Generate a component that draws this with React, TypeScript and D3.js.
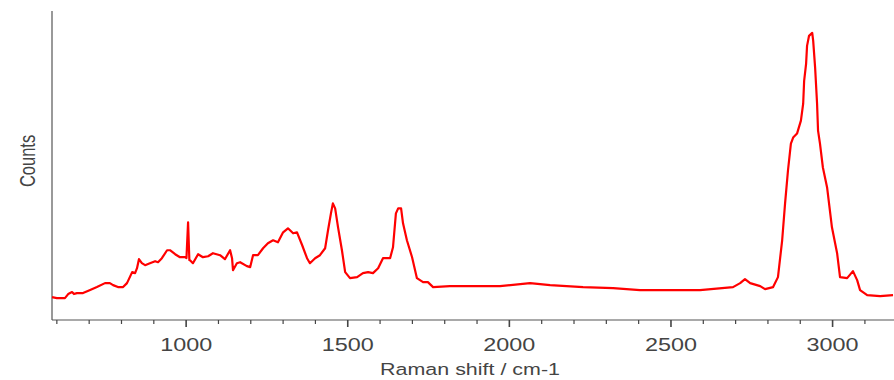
import React, { useEffect, useRef } from 'react';
import * as d3 from 'd3';

// Raman shift (cm-1) and counts (arbitrary units)
const shifts = [
  585, 600, 625, 635, 647, 653, 662, 681, 703, 724, 749, 764, 774, 789, 805, 817,
  833, 842, 848, 854, 863, 873, 888, 904, 913, 925, 941, 950, 966, 981, 997,
  1001, 1006, 1010, 1012, 1021, 1037, 1052, 1068, 1083, 1105, 1120, 1136, 1142,
  1145, 1157, 1167, 1188, 1198, 1207, 1222, 1238, 1253, 1269, 1284, 1300, 1315,
  1331, 1343, 1359, 1374, 1383, 1399, 1414, 1430, 1439, 1448, 1454, 1461, 1470,
  1482, 1492, 1507, 1529, 1547, 1563, 1578, 1594, 1609, 1631, 1640, 1649, 1656,
  1665, 1671, 1683, 1699, 1714, 1733, 1748, 1764, 1816, 1869, 1971, 2064, 2126,
  2228, 2321, 2404, 2488, 2590, 2692, 2714, 2729, 2745, 2776, 2791, 2816, 2831,
  2844, 2853, 2862, 2871, 2878, 2890, 2902, 2909, 2912, 2918, 2921, 2927, 2937,
  2940, 2946, 2952, 2955, 2961, 2970, 2983, 2998, 3014, 3023, 3045, 3063, 3076,
  3085, 3107, 3147, 3187
];
const counts = [
  230, 220, 220, 260, 280, 260, 270, 270, 300, 330, 370, 370, 350, 330, 330, 370,
  480, 470, 520, 610, 570, 550, 570, 590, 580, 620, 700, 700, 660, 630, 630,
  620, 980, 600, 600, 570, 660, 630, 640, 670, 650, 610, 700, 620,
  500, 570, 580, 540, 530, 650, 650, 720, 770, 800, 780, 880, 920,
  870, 880, 750, 620, 570, 620, 650, 720, 900, 1070, 1170, 1120, 930,
  700, 480, 420, 430, 470, 480, 470, 520, 620, 620, 730, 1070, 1120,
  1120, 970, 800, 630, 420, 380, 380, 330, 340, 340, 340, 370, 350,
  330, 320, 300, 300, 300, 330, 370, 410, 370, 340, 310, 330, 430,
  800, 1170, 1500, 1770, 1830, 1870, 2000, 2170, 2400, 2570, 2750, 2850, 2880,
  2800, 2530, 2170, 1900, 1770, 1530, 1330, 930, 670, 430, 420, 490, 400,
  300, 250, 240, 250
];

const majorTicks = [1000, 1500, 2000, 2500, 3000];
const minorTicks = d3.range(600, 3200, 100);

export default function App() {
  const svgRef = useRef<SVGSVGElement>(null);

  useEffect(() => {
    if (!svgRef.current) return;
    const width = 894;
    const height = 380;
    const margin = { top: 11, right: 0, bottom: 60, left: 52 };
    const plotBottom = height - margin.bottom;
    const font = 'Arial, "Liberation Sans", sans-serif';
    const stretch = 1.3; // the original picture is widened a bit

    const svg = d3.select(svgRef.current);
    svg.selectAll('*').remove();

    const x = d3.scaleLinear().domain([585, 3190]).range([margin.left, width - margin.right]);
    const y = d3.scaleLinear().domain([0, 3100]).range([plotBottom, margin.top]);

    const data = shifts.map((s, i) => ({ x: s, y: counts[i] }));

    // Axis lines
    svg.append('line')
      .attr('x1', margin.left).attr('x2', margin.left)
      .attr('y1', margin.top).attr('y2', plotBottom)
      .attr('stroke', '#555').attr('stroke-width', 1.2);
    svg.append('line')
      .attr('x1', margin.left).attr('x2', width)
      .attr('y1', plotBottom).attr('y2', plotBottom)
      .attr('stroke', '#555').attr('stroke-width', 1.2);

    // Ticks
    svg.append('g').selectAll('line')
      .data(minorTicks)
      .join('line')
      .attr('x1', d => x(d)).attr('x2', d => x(d))
      .attr('y1', plotBottom)
      .attr('y2', d => plotBottom + (d % 500 === 0 ? 7 : 4))
      .attr('stroke', '#444')
      .attr('stroke-width', d => (d % 500 === 0 ? 1.6 : 1.2));

    svg.append('g').selectAll('text')
      .data(majorTicks)
      .join('text')
      .attr('transform', d => `translate(${x(d)},${plotBottom + 31}) scale(${stretch},1)`)
      .attr('text-anchor', 'middle')
      .style('font-family', font)
      .style('font-size', '18px')
      .style('fill', '#444')
      .text(d => d);

    // Axis labels
    svg.append('text')
      .attr('transform', `translate(${(margin.left + width) / 2 - 3},${height - 5}) scale(${stretch},1)`)
      .attr('text-anchor', 'middle')
      .style('font-family', font)
      .style('font-size', '16.5px')
      .style('fill', '#444')
      .text('Raman shift / cm-1');

    svg.append('text')
      .attr('transform', `translate(35,161) scale(${stretch},1) rotate(-90)`)
      .attr('text-anchor', 'middle')
      .style('font-family', font)
      .style('font-size', '16.5px')
      .style('fill', '#444')
      .text('Counts');

    // Spectrum
    const line = d3.line<{ x: number; y: number }>()
      .x(d => x(d.x))
      .y(d => y(d.y));

    svg.append('path')
      .datum(data)
      .attr('fill', 'none')
      .attr('stroke', '#ff0000')
      .attr('stroke-width', 2.2)
      .attr('stroke-linejoin', 'round')
      .attr('d', line);
  }, []);

  return (
    <div style={{ position: 'absolute', left: 0, top: 0 }}>
      <svg ref={svgRef} width={894} height={380} style={{ display: 'block' }} />
    </div>
  );
}
